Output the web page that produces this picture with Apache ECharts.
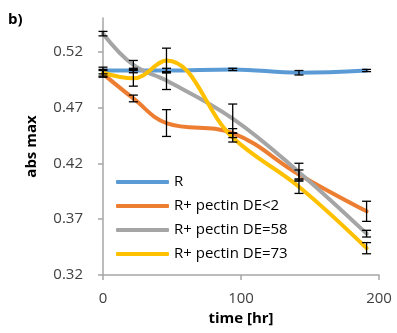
<!DOCTYPE html>
<html>
<head>
<meta charset="utf-8">
<script src="https://cdn.jsdelivr.net/npm/echarts@6/dist/echarts.min.js"></script>
<style>html,body{margin:0;padding:0;background:#fff}#c{width:397px;height:333px}</style>
</head>
<body>
<div id="c"></div>
<script>
const times = [0, 22, 46, 94, 142, 191];
const seriesNames = ['R', 'R+ pectin DE<2', 'R+ pectin DE=58', 'R+ pectin DE=73'];
const valR    = [0.503, 0.503, 0.503, 0.504, 0.501, 0.503];
const errR    = [0.003, 0.002, 0.002, 0.001, 0.002, 0.001];
const valDE2  = [0.500, 0.478, 0.456, 0.447, 0.410, 0.377];
const errDE2  = [0.003, 0.003, 0.012, 0.004, 0.004, 0.009];
const valDE58 = [0.536, 0.508, 0.494, 0.460, 0.412, 0.357];
const errDE58 = [0.002, 0.004, 0.008, 0.013, 0.008, 0.003];
const valDE73 = [0.501, 0.496, 0.512, 0.443, 0.399, 0.344];
const errDE73 = [0.003, 0.007, 0.011, 0.004, 0.006, 0.005];
const yTicks = [0.32, 0.37, 0.42, 0.47, 0.52];
const xTicks = [0, 100, 200];

const colors = ['#5B9BD5', '#ED7D31', '#A5A5A5', '#FFC000'];
const vals = [valR, valDE2, valDE58, valDE73];
const errs = [errR, errDE2, errDE58, errDE73];

const chart = echarts.init(document.getElementById('c'), null, {renderer: 'canvas'});

const lineSeries = vals.map((v, i) => ({
  name: seriesNames[i],
  type: 'line',
  smooth: 0.4,
  symbol: 'none',
  data: times.map((t, k) => [t, v[k]]),
  lineStyle: {color: colors[i], width: 4, cap: 'round'},
  itemStyle: {color: colors[i]},
  z: 2
}));

const errSeries = vals.map((v, i) => ({
  type: 'custom',
  silent: true,
  z: 5,
  data: times.map((t, k) => [t, v[k] - errs[i][k], v[k] + errs[i][k]]),
  renderItem: function (params, api) {
    const x = api.coord([api.value(0), api.value(1)])[0];
    const yLo = api.coord([api.value(0), api.value(1)])[1];
    const yHi = api.coord([api.value(0), api.value(2)])[1];
    const hw = 4.5;
    const st = {stroke: '#000', lineWidth: 1.3};
    return {
      type: 'group',
      children: [
        {type: 'line', shape: {x1: x, y1: yLo, x2: x, y2: yHi}, style: st},
        {type: 'line', shape: {x1: x - hw, y1: yLo, x2: x + hw, y2: yLo}, style: st},
        {type: 'line', shape: {x1: x - hw, y1: yHi, x2: x + hw, y2: yHi}, style: st}
      ]
    };
  }
}));

const axisGray = '#A6A6A6';
const txt = '#404040';
const font = 'Open Sans';

chart.setOption({
  animation: false,
  backgroundColor: '#fff',
  textStyle: {fontFamily: font},
  grid: {left: 103, right: 18, top: 18, bottom: 58},
  xAxis: {
    type: 'value', min: 0, max: 200, interval: 100,
    name: 'time [hr]', nameLocation: 'middle', nameGap: 36,
    nameTextStyle: {fontFamily: font, fontWeight: 'bold', fontSize: 15, color: '#000'},
    axisLine: {show: true, lineStyle: {color: axisGray, width: 1.5}},
    axisTick: {show: true, length: 5, lineStyle: {color: axisGray, width: 1.5}},
    axisLabel: {fontFamily: font, fontSize: 15, color: txt, margin: 16,
      customValues: xTicks},
    splitLine: {show: false}
  },
  yAxis: {
    type: 'value', min: 0.32, max: 0.55,
    name: 'abs max', nameLocation: 'middle', nameGap: 64, nameRotate: 90,
    nameTextStyle: {fontFamily: font, fontWeight: 'bold', fontSize: 15, color: '#000', padding: [0, 0, 0, 0]},
    axisLine: {show: true, lineStyle: {color: axisGray, width: 1.5}},
    axisTick: {show: true, length: 5, customValues: yTicks, lineStyle: {color: axisGray, width: 1.5}},
    axisLabel: {fontFamily: font, fontSize: 15, color: txt, margin: 20,
      customValues: yTicks, formatter: v => v.toFixed(2)},
    splitLine: {show: false}
  },
  legend: {
    orient: 'vertical', left: 111, top: 167,
    icon: 'roundRect', itemWidth: 53, itemHeight: 4, itemGap: 4,
    textStyle: {fontFamily: font, fontSize: 15, color: '#000', lineHeight: 20},
    data: seriesNames
  },
  graphic: [{
    type: 'text', left: 8, top: 12,
    style: {text: 'b)', font: 'bold 15px "Open Sans"', fill: '#000'}
  }],
  series: lineSeries.concat(errSeries)
});
</script>
</body>
</html>
